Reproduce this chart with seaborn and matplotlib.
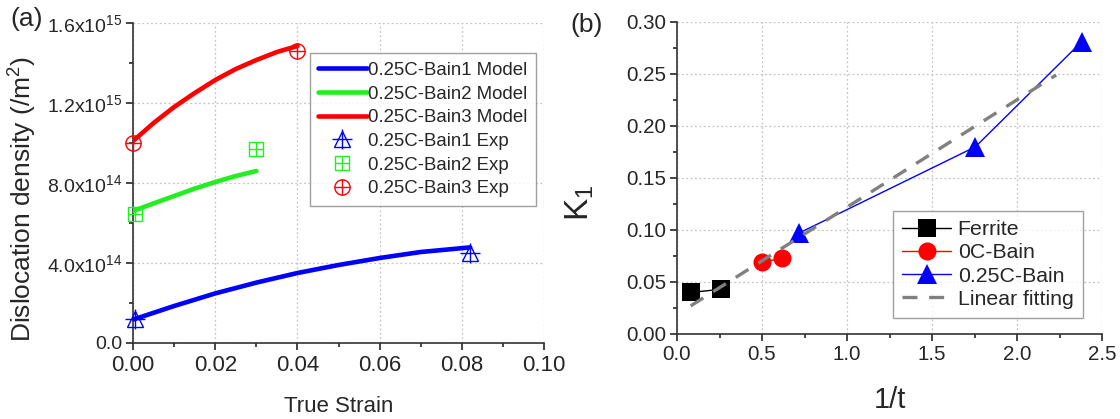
import numpy as np
import pandas as pd
import matplotlib
matplotlib.use("Agg")
import matplotlib.pyplot as plt
from matplotlib.lines import Line2D
from matplotlib.ticker import FuncFormatter, MultipleLocator
import seaborn as sns

# panel (a): model curves
strain_b1 = [0.0, 0.01, 0.02, 0.03, 0.04, 0.05, 0.06, 0.07, 0.082]
rho_b1 = [1.17e14, 1.85e14, 2.48e14, 3.02e14, 3.5e14, 3.9e14, 4.25e14, 4.55e14, 4.78e14]
strain_b2 = [0.0, 0.005, 0.01, 0.015, 0.02, 0.025, 0.03]
rho_b2 = [6.6e14, 6.98e14, 7.35e14, 7.72e14, 8.05e14, 8.35e14, 8.6e14]
strain_b3 = [0.0, 0.005, 0.01, 0.015, 0.02, 0.025, 0.03, 0.035, 0.04]
rho_b3 = [1.01e15, 1.10e15, 1.18e15, 1.25e15, 1.315e15, 1.37e15, 1.415e15, 1.455e15, 1.485e15]

# panel (a): experimental points
exp_strain_b1 = [0.0005, 0.082]
exp_rho_b1 = [1.2e14, 4.5e14]
exp_strain_b2 = [0.0005, 0.030]
exp_rho_b2 = [6.45e14, 9.7e14]
exp_strain_b3 = [0.0, 0.040]
exp_rho_b3 = [1.0e15, 1.46e15]

# panel (b)
ferrite_x = [0.085, 0.26]
ferrite_k = [0.040, 0.043]
bain0_x = [0.50, 0.62]
bain0_k = [0.069, 0.073]
bain25_x = [0.717, 1.755, 2.38]
bain25_k = [0.097, 0.180, 0.281]
fit_x = [0.08, 2.23]
fit_k = [0.027, 0.249]

sns.set_style("ticks")
plt.rcParams['font.family'] = ['Liberation Sans', 'DejaVu Sans']
plt.rcParams['mathtext.fontset'] = 'custom'
plt.rcParams['mathtext.rm'] = 'Liberation Sans'
plt.rcParams['mathtext.it'] = 'Liberation Sans:italic'
plt.rcParams['mathtext.default'] = 'regular'

fig = plt.figure(figsize=(11.2, 4.19), dpi=100)
axa = fig.add_axes([0.1188, 0.1814, 0.367, 0.7637])
axb = fig.add_axes([0.6045, 0.2029, 0.3795, 0.7446])

grid_kw = dict(color='#c4c4c4', linestyle=(0, (1.5, 2)), linewidth=0.9)

# ---- panel (a)
blue, green, red = '#0000ff', '#22ee22', '#ff0000'
model = [(strain_b1, rho_b1, blue), (strain_b2, rho_b2, green), (strain_b3, rho_b3, red)]
for sx, sy, c in model:
    df = pd.DataFrame({'x': sx, 'y': sy})
    sns.lineplot(data=df, x='x', y='y', ax=axa, color=c, linewidth=3.3,
                 estimator=None, sort=False, zorder=3)

exps = [(exp_strain_b1, exp_rho_b1, blue, '^', 11),
        (exp_strain_b2, exp_rho_b2, green, 's', 10),
        (exp_strain_b3, exp_rho_b3, red, 'o', 11)]
for ex, ey, c, m, ms in exps:
    axa.plot(ex, ey, linestyle='none', marker=m, markersize=ms, markerfacecolor='none',
             markeredgecolor=c, markeredgewidth=1.0, clip_on=False, zorder=4)
    axa.plot(ex, ey, linestyle='none', marker='+', markersize=ms * 1.35 if m == '^' else ms,
             markeredgecolor=c, markeredgewidth=1.0, clip_on=False, zorder=4)

axa.set_xlim(0, 0.10)
axa.set_ylim(0, 1.6e15)
axa.xaxis.set_major_locator(MultipleLocator(0.02))
axa.xaxis.set_minor_locator(MultipleLocator(0.01))
axa.yaxis.set_major_locator(MultipleLocator(4e14))
axa.yaxis.set_minor_locator(MultipleLocator(2e14))
axa.xaxis.set_major_formatter(FuncFormatter(lambda v, p: f'{v:.2f}'))


def sci_fmt(v, pos):
    if v <= 0:
        return '0.0'
    e = int(np.floor(np.log10(v) + 1e-9))
    return f'{v / 10 ** e:.1f}x10$^{{{e}}}$'


axa.yaxis.set_major_formatter(FuncFormatter(sci_fmt))
axa.grid(True, which='major', **grid_kw)
axa.tick_params(axis='x', labelsize=16, length=5, width=1.2, pad=4)
axa.tick_params(axis='y', labelsize=14, length=5, width=1.2, pad=3)
axa.tick_params(which='minor', length=3, width=1.2)
for s in ['top', 'right']:
    axa.spines[s].set_visible(False)
for s in ['left', 'bottom']:
    axa.spines[s].set_linewidth(1.2)
    axa.spines[s].set_color('#333333')
axa.set_xlabel('True Strain', fontsize=16, labelpad=14)
axa.set_ylabel('Dislocation density (/m$^2$)', fontsize=19)
axa.yaxis.set_label_coords(-0.228, 0.45)

handles_a = [Line2D([], [], color=blue, lw=3.3),
             Line2D([], [], color=green, lw=3.3),
             Line2D([], [], color=red, lw=3.3),
             (Line2D([], [], ls='none', marker='^', ms=11, mfc='none', mec=blue),
              Line2D([], [], ls='none', marker='+', ms=15, mec=blue)),
             (Line2D([], [], ls='none', marker='s', ms=10, mfc='none', mec=green),
              Line2D([], [], ls='none', marker='+', ms=10, mec=green)),
             (Line2D([], [], ls='none', marker='o', ms=11, mfc='none', mec=red),
              Line2D([], [], ls='none', marker='+', ms=11, mec=red))]
labels_a = ['0.25C-Bain1 Model', '0.25C-Bain2 Model', '0.25C-Bain3 Model',
            '0.25C-Bain1 Exp', '0.25C-Bain2 Exp', '0.25C-Bain3 Exp']
leg = axa.legend(handles_a, labels_a, loc='upper left', bbox_to_anchor=(0.43, 0.905),
                 fontsize=13.4, frameon=True, fancybox=False, edgecolor='#888888',
                 handlelength=2.6, handletextpad=0.1, labelspacing=0.36,
                 borderpad=0.45, borderaxespad=0)
leg.get_frame().set_linewidth(1.0)

fig.text(0.009, 0.955, '(a)', fontsize=19, ha='left', va='center')

# ---- panel (b)
groups = [(ferrite_x, ferrite_k, 'black', 's', 13, 'Ferrite'),
          (bain0_x, bain0_k, '#ff0000', 'o', 13, '0C-Bain'),
          (bain25_x, bain25_k, '#0000ff', '^', 14, '0.25C-Bain')]
for gx, gk, c, m, ms, lab in groups:
    df = pd.DataFrame({'x': gx, 'y': gk})
    sns.lineplot(data=df, x='x', y='y', ax=axb, color=c, linewidth=1.0, marker=m,
                 markersize=ms, markeredgecolor=c, markeredgewidth=0,
                 estimator=None, sort=False, label=lab, zorder=3)
df_fit = pd.DataFrame({'x': fit_x, 'y': fit_k})
sns.lineplot(data=df_fit, x='x', y='y', ax=axb, color='#808080', linewidth=2.4,
             estimator=None, sort=False, label='Linear fitting', zorder=4)
axb.lines[-1].set_dashes((4.5, 3.5))

axb.set_xlim(0, 2.5)
axb.set_ylim(0, 0.30)
axb.xaxis.set_major_locator(MultipleLocator(0.5))
axb.xaxis.set_minor_locator(MultipleLocator(0.25))
axb.yaxis.set_major_locator(MultipleLocator(0.05))
axb.yaxis.set_minor_locator(MultipleLocator(0.025))
axb.xaxis.set_major_formatter(FuncFormatter(lambda v, p: f'{v:.1f}'))
axb.yaxis.set_major_formatter(FuncFormatter(lambda v, p: f'{v:.2f}'))
axb.grid(True, which='major', **grid_kw)
axb.tick_params(axis='both', labelsize=14.8, length=5, width=1.2, pad=3)
axb.tick_params(which='minor', length=3, width=1.2)
for s in ['top', 'right']:
    axb.spines[s].set_visible(False)
for s in ['left', 'bottom']:
    axb.spines[s].set_linewidth(1.2)
    axb.spines[s].set_color('#333333')
axb.set_xlabel('1/t', fontsize=21, labelpad=16)
axb.set_ylabel('K$_1$', fontsize=24)
axb.yaxis.set_label_coords(-0.19, 0.42)

legb = axb.legend(loc='lower right', bbox_to_anchor=(0.955, 0.05), fontsize=15.3,
                  frameon=True, fancybox=False, edgecolor='#888888',
                  handlelength=2.3, handletextpad=0.3, labelspacing=0.2,
                  borderpad=0.45, borderaxespad=0)
legb.get_frame().set_linewidth(1.0)

fig.text(0.509, 0.94, '(b)', fontsize=19, ha='left', va='center')

fig.savefig('out.png', dpi=100, facecolor='white')
